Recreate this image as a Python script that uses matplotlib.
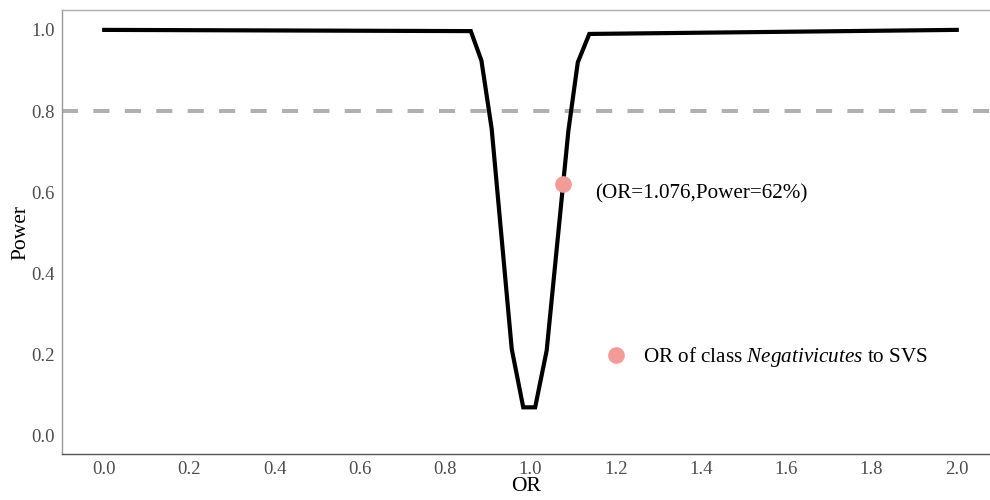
import matplotlib
matplotlib.use("Agg")
import matplotlib.pyplot as plt

# Power curve data
odds_ratio = [0.0, 0.860, 0.885, 0.909, 0.956, 0.983, 1.011, 1.038, 1.089, 1.111, 1.138, 2.0]
power = [1.000, 0.997, 0.924, 0.756, 0.214, 0.070, 0.070, 0.210, 0.752, 0.920, 0.990, 1.000]

threshold = 0.8
obs_or = 1.076
obs_power = 0.62
legend_or = 1.2
legend_power = 0.2
annot_text = "(OR=1.076,Power=62%)"
legend_text = "OR of class $\\mathit{Negativicutes}$ to SVS"
xticks = [0.0, 0.2, 0.4, 0.6, 0.8, 1.0, 1.2, 1.4, 1.6, 1.8, 2.0]
yticks = [0.0, 0.2, 0.4, 0.6, 0.8, 1.0]

plt.rcParams['font.family'] = ['Liberation Serif', 'DejaVu Serif']
plt.rcParams['mathtext.fontset'] = 'custom'
plt.rcParams['mathtext.it'] = 'Liberation Serif:italic'
plt.rcParams['mathtext.rm'] = 'Liberation Serif'

fig = plt.figure(figsize=(9.9, 5.0), dpi=100)
ax = fig.add_axes([62/990, 46/500, 928/990, 444/500])

pt_color = '#F39B97'
ax.axhline(threshold, color='#B0B0B0', lw=2.9, dashes=(4, 3.8), zorder=1)
ax.plot(odds_ratio, power, color='black', lw=3.0, solid_joinstyle='miter', zorder=2)
ax.plot([obs_or], [obs_power], 'o', color=pt_color, ms=12, mec='none', zorder=3)
ax.plot([legend_or], [legend_power], 'o', color=pt_color, ms=12, mec='none', zorder=3)
ax.text(1.151, 0.595, annot_text, fontsize=15.2, va='center', ha='left', color='black')
ax.text(1.264, 0.195, legend_text, fontsize=15.2, va='center', ha='left', color='black')

ax.set_xlim(-0.099, 2.078)
ax.set_ylim(-0.045, 1.049)
ax.set_xticks(xticks)
ax.set_yticks(yticks)
ax.set_xticklabels([f"{v:.1f}" for v in xticks])
ax.set_yticklabels([f"{v:.1f}" for v in yticks])
ax.tick_params(length=0, labelsize=13.5, labelcolor='#4D4D4D', pad=5)

ax.set_xlabel("OR", fontsize=15.5, labelpad=-1)
ax.set_ylabel("Power", fontsize=15.5, labelpad=1)

ax.spines['right'].set_visible(False)
ax.spines['top'].set_color('#AAAAAA')
ax.spines['left'].set_color('#999999')
ax.spines['bottom'].set_color('#555555')
for s in ax.spines.values():
    s.set_linewidth(1.0)

fig.savefig("out.png", dpi=100)
